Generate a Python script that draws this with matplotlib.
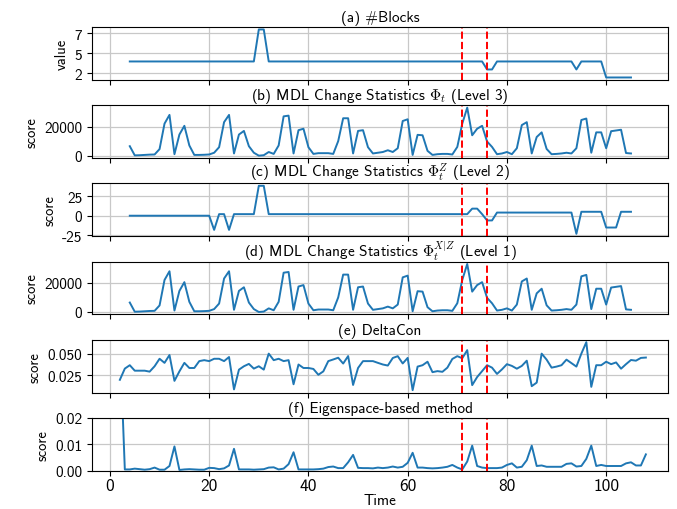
import numpy as np
import matplotlib
matplotlib.use("Agg")
import matplotlib.pyplot as plt

plt.rcParams['font.family'] = ['cmss10', 'DejaVu Sans']
plt.rcParams['mathtext.fontset'] = 'cm'
plt.rcParams['axes.unicode_minus'] = False
plt.rcParams['axes.formatter.use_mathtext'] = True

# time axis for panels (a)-(d) and (e)-(f)
t_mdl = list(range(4, 106))
t_base = list(range(2, 109))

# (a) number of blocks
blocks = ([4] * 26 + [8, 8] + [4] * 44 + [3, 3] + [4] * 16 + [3]
          + [4] * 5 + [2] * 6)

# (b) MDL change statistics, level 3
mdl_level3 = [6500, 200, 300, 500, 700, 800, 4500, 22000, 28000, 1000,
              14500, 20500, 7000, 500, 500, 600, 800, 2000, 5800, 23000,
              28000, 1500, 14500, 17000, 6500, 2000, 0, 300, 2500, 1200,
              7000, 27000, 27500, 1500, 17500, 18500, 5800, 1200, 1700, 1700,
              1700, 1200, 10000, 25700, 25700, 1500, 17000, 17500, 5800, 1500,
              2000, 2500, 3700, 2500, 5100, 23800, 25000, 500, 14300, 14000,
              3300, 500, 1000, 1200, 1200, 800, 6000, 22000, 33000, 14000,
              18500, 20500, 9700, 6000, 1000, 1500, 2500, 1000, 5100, 21000,
              23000, 1500, 12800, 16000, 4600, 1000, 1200, 1500, 2000, 1500,
              5100, 24500, 25500, 2000, 16000, 16000, 5100, 16800, 17300, 17800,
              1800, 1500]

# (c) MDL change statistics, level 2
mdl_level2 = ([0] * 17 + [-18, 2, 2, -18] + [2] * 5 + [38, 38] + [2] * 41
              + [9, 9, 2, -6, -6] + [4] * 16 + [-23] + [5] * 5
              + [-15, -15, -15] + [5] * 3)

# (d) MDL change statistics, level 1 (same curve as level 3)
mdl_level1 = list(mdl_level3)

# (e) DeltaCon
deltacon = [0.0199, 0.0328, 0.0367, 0.0304, 0.0304, 0.0304, 0.0293, 0.0355,
            0.0441, 0.0394, 0.0484, 0.0187, 0.0296, 0.0394, 0.0335, 0.0335,
            0.0414, 0.0425, 0.0414, 0.0441, 0.0441, 0.0414, 0.0461, 0.0089,
            0.0316, 0.0355, 0.0382, 0.0328, 0.0355, 0.0316, 0.0500, 0.0425,
            0.0441, 0.0414, 0.0425, 0.0148, 0.0375, 0.0335, 0.0335, 0.0324,
            0.0257, 0.0296, 0.0414, 0.0433, 0.0453, 0.0386, 0.0472, 0.0140,
            0.0335, 0.0414, 0.0414, 0.0414, 0.0394, 0.0375, 0.0363, 0.0450,
            0.0471, 0.0387, 0.0451, 0.0080, 0.0351, 0.0367, 0.0407, 0.0287,
            0.0299, 0.0291, 0.0339, 0.0439, 0.0471, 0.0447, 0.0540, 0.0138,
            0.0231, 0.0299, 0.0367, 0.0339, 0.0267, 0.0319, 0.0379, 0.0359,
            0.0327, 0.0359, 0.0419, 0.0126, 0.0167, 0.0500, 0.0431, 0.0339,
            0.0351, 0.0367, 0.0431, 0.0391, 0.0351, 0.0500, 0.0632, 0.0118,
            0.0367, 0.0367, 0.0407, 0.0379, 0.0399, 0.0327, 0.0379, 0.0427,
            0.0419, 0.0451, 0.0455]

# (f) eigenspace-based method
eigen = [0.05, 0.0005, 0.0005, 0.0008, 0.0006, 0.0004, 0.0006, 0.0012,
         0.0004, 0.0004, 0.0018, 0.0092, 0.0003, 0.0005, 0.0006, 0.0005,
         0.0004, 0.0004, 0.0011, 0.0010, 0.0006, 0.0009, 0.0020, 0.0083,
         0.0005, 0.0005, 0.0005, 0.0004, 0.0005, 0.0006, 0.0012, 0.0013,
         0.0005, 0.0008, 0.0025, 0.0070, 0.0005, 0.0005, 0.0005, 0.0005,
         0.0006, 0.0008, 0.0014, 0.0016, 0.0010, 0.0010, 0.0032, 0.0060,
         0.0011, 0.0010, 0.0010, 0.0009, 0.0012, 0.0010, 0.0012, 0.0016,
         0.0012, 0.0015, 0.0030, 0.0068, 0.0012, 0.0012, 0.0010, 0.0009,
         0.0010, 0.0012, 0.0015, 0.0022, 0.0012, 0.0005, 0.0035, 0.0095,
         0.0018, 0.0012, 0.0010, 0.0010, 0.0010, 0.0012, 0.0022, 0.0028,
         0.0012, 0.0015, 0.0040, 0.0095, 0.0018, 0.0020, 0.0015, 0.0015,
         0.0015, 0.0015, 0.0026, 0.0028, 0.0016, 0.0018, 0.0045, 0.0095,
         0.0018, 0.0022, 0.0018, 0.0018, 0.0018, 0.0018, 0.0028, 0.0032,
         0.0020, 0.0020, 0.0062]

change_points = [71, 76]

panels = [
    ("(a) #Blocks", "value", t_mdl, blocks),
    (r"(b) MDL Change Statistics $\Phi_t$ (Level 3)", "score", t_mdl, mdl_level3),
    (r"(c) MDL Change Statistics $\Phi_t^Z$ (Level 2)", "score", t_mdl, mdl_level2),
    (r"(d) MDL Change Statistics $\Phi_t^{X|Z}$ (Level 1)", "score", t_mdl, mdl_level1),
    ("(e) DeltaCon", "score", t_base, deltacon),
    ("(f) Eigenspace-based method", "score", t_base, eigen),
]

fig, axes = plt.subplots(6, 1, figsize=(6.77, 5.10), dpi=100, sharex=True)
fig.subplots_adjust(left=0.136, right=0.987, top=0.945, bottom=0.075, hspace=0.48)

for ax, (title, ylabel, t, vals) in zip(axes, panels):
    ax.plot(t, vals, color='#1f77b4', lw=1.4)
    for cp in change_points:
        ax.axvline(cp, color='red', ls='--', lw=1.4)
    ax.set_title(title, fontsize=11, pad=4)
    ax.set_ylabel(ylabel, fontsize=10.5)
    ax.grid(True, color='#c8c8c8', lw=0.9)
    ax.tick_params(labelsize=11)

axes[0].set_yticks([2.5, 5, 7.5])
axes[0].set_yticklabels(['2', '5', '7'])
axes[1].set_yticks([0, 20000])
axes[1].set_yticklabels(['0', '20000'])
axes[2].set_yticks([-25, 0, 25])
axes[2].set_yticklabels(['-25', '0', '25'])
axes[3].set_yticks([0, 20000])
axes[3].set_yticklabels(['0', '20000'])
axes[4].set_yticks([0.025, 0.050])
axes[4].set_yticklabels(['0.025', '0.050'])
axes[5].set_ylim(0, 0.02)
axes[5].set_yticks([0.0, 0.01, 0.02])
axes[5].set_yticklabels(['0.00', '0.01', '0.02'])

axes[5].set_xticks([0, 20, 40, 60, 80, 100])
axes[5].set_xticklabels(['0', '20', '40', '60', '80', '100'])
axes[5].tick_params(axis='x', labelsize=12.5, pad=2)
axes[5].set_xlabel("Time", fontsize=11, labelpad=0)
axes[5].set_xlim(-3.6, 112.5)

fig.savefig("out.png", dpi=100)
